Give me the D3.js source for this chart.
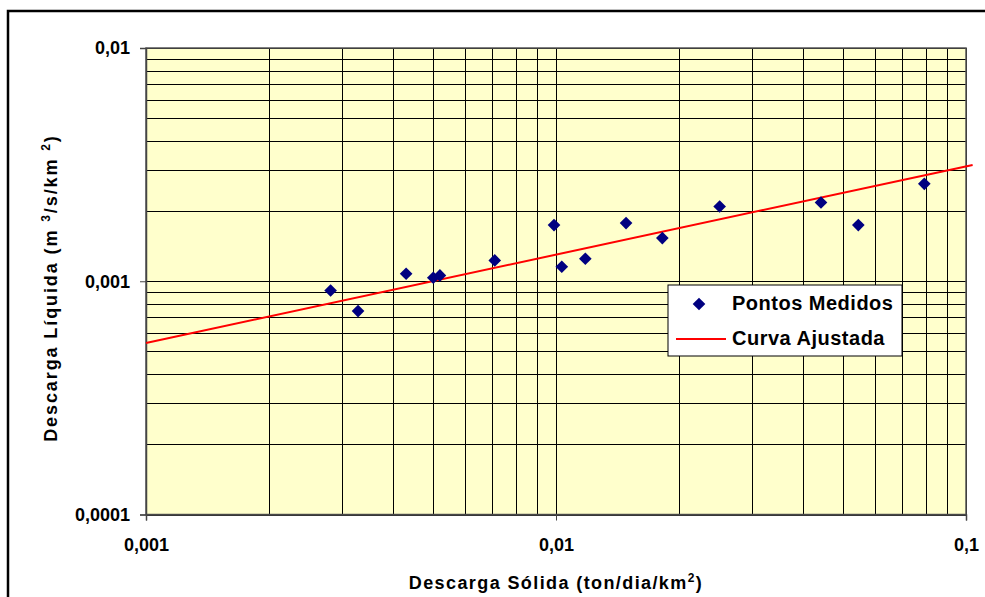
<!DOCTYPE html>
<html>
<head>
<meta charset="utf-8">
<script src="https://cdn.jsdelivr.net/npm/d3@7"></script>
<style>
  html, body { margin: 0; padding: 0; background: #fff; }
  svg { display: block; }
  text { font-family: "Liberation Sans", Arial, sans-serif; font-weight: bold; fill: #000; }
</style>
</head>
<body>
<svg id="chart" width="985" height="597"></svg>
<script>
// Measured points: solid discharge (ton/dia/km²) vs liquid discharge (m³/s/km²)
const solidDischarge = [0.00282, 0.00329, 0.00431, 0.00502, 0.00521, 0.00709, 0.00989, 0.01033,
                        0.01179, 0.01482, 0.01817, 0.02507, 0.04429, 0.05462, 0.07912];
const liquidDischarge = [0.000913, 0.000745, 0.001077, 0.001035, 0.001059, 0.001228, 0.001741, 0.001154,
                         0.001249, 0.001775, 0.001531, 0.002091, 0.002175, 0.001741, 0.002616];

// Fitted power curve endpoints
const curveSolid = [0.001, 0.1038];
const curveLiquid = [0.000544, 0.003153];

// Axis ticks
const xTicks = [0.001, 0.01, 0.1];
const xTickLabels = ["0,001", "0,01", "0,1"];
const yTicks = [0.0001, 0.001, 0.01];
const yTickLabels = ["0,0001", "0,001", "0,01"];

const legendLabels = ["Pontos Medidos", "Curva Ajustada"];

const svg = d3.select("#chart");
const plot = { left: 146, right: 966, top: 48, bottom: 514.5 };

const x = d3.scaleLog().domain([0.001, 0.1]).range([plot.left, plot.right]);
const y = d3.scaleLog().domain([0.0001, 0.01]).range([plot.bottom, plot.top]);

// Outer frame
svg.append("rect")
  .attr("x", 8).attr("y", 11).attr("width", 990).attr("height", 600)
  .attr("fill", "#fff").attr("stroke", "#000").attr("stroke-width", 2.5);

// Plot background
svg.append("rect")
  .attr("x", plot.left).attr("y", plot.top)
  .attr("width", plot.right - plot.left).attr("height", plot.bottom - plot.top)
  .attr("fill", "#FFFFCC");

// Grid lines at every log subdivision
const minorX = [];
for (let d = 0.001; d < 0.1 * 1.0001; d *= 10) for (let k = 1; k <= 9; k++) { const v = d * k; if (v <= 0.1 * 1.0001) minorX.push(v); }
const minorY = [];
for (let d = 0.0001; d < 0.01 * 1.0001; d *= 10) for (let k = 1; k <= 9; k++) { const v = d * k; if (v <= 0.01 * 1.0001) minorY.push(v); }

const grid = svg.append("g").attr("stroke", "#000").attr("stroke-width", 1).attr("shape-rendering", "crispEdges");
grid.selectAll("line.gx").data(minorX).join("line")
  .attr("x1", d => Math.round(x(d)) + 0.5).attr("x2", d => Math.round(x(d)) + 0.5)
  .attr("y1", plot.top).attr("y2", plot.bottom);
grid.selectAll("line.gy").data(minorY).join("line")
  .attr("y1", d => Math.round(y(d)) + 0.5).attr("y2", d => Math.round(y(d)) + 0.5)
  .attr("x1", plot.left).attr("x2", plot.right);

// Plot border
svg.append("rect")
  .attr("x", plot.left).attr("y", plot.top)
  .attr("width", plot.right - plot.left).attr("height", plot.bottom - plot.top)
  .attr("fill", "none").attr("stroke", "#555").attr("stroke-width", 1.5);

// Axes
const xAxis = d3.axisBottom(x).tickValues(xTicks).tickFormat((d, i) => xTickLabels[i]).tickSize(6).tickPadding(18);
const gx = svg.append("g").attr("transform", `translate(0,${plot.bottom})`).call(xAxis);
gx.select(".domain").attr("stroke", "#444").attr("stroke-width", 1.5);
gx.selectAll(".tick line").attr("stroke", "#444");
gx.selectAll(".tick text").style("font-size", "18px").style("font-weight", "bold")
  .style("font-family", "'Liberation Sans', Arial, sans-serif").attr("fill", "#000");

const yAxis = d3.axisLeft(y).tickValues(yTicks).tickFormat((d, i) => yTickLabels[i]).tickSize(6).tickPadding(10);
const gy = svg.append("g").attr("transform", `translate(${plot.left},0)`).call(yAxis);
gy.select(".domain").attr("stroke", "#444").attr("stroke-width", 1.5);
gy.selectAll(".tick line").attr("stroke", "#444");
gy.selectAll(".tick text").style("font-size", "18px").style("font-weight", "bold")
  .style("font-family", "'Liberation Sans', Arial, sans-serif").attr("fill", "#000");

// Fitted curve
const line = d3.line().x(d => x(d[0])).y(d => y(d[1]));
svg.append("path")
  .datum(curveSolid.map((s, i) => [s, curveLiquid[i]]))
  .attr("d", line).attr("fill", "none").attr("stroke", "#FF0000").attr("stroke-width", 2);

// Measured points
const diamond = d3.symbol().type(d3.symbolSquare).size(80);
svg.append("g").selectAll("path").data(solidDischarge.map((s, i) => [s, liquidDischarge[i]])).join("path")
  .attr("d", diamond())
  .attr("transform", d => `translate(${x(d[0])},${y(d[1])}) rotate(45)`)
  .attr("fill", "#000080");

// Axis titles
const xt = svg.append("text")
  .attr("x", (plot.left + plot.right) / 2).attr("y", 589)
  .attr("text-anchor", "middle").style("font-size", "18px").style("letter-spacing", "1.4px");
xt.append("tspan").text("Descarga Sólida (ton/dia/km");
xt.append("tspan").text("2").attr("dy", -7).style("font-size", "12px");
xt.append("tspan").text(")").attr("dy", 7);

const yt = svg.append("text")
  .attr("transform", `translate(57,${288}) rotate(-90)`)
  .attr("text-anchor", "middle").style("font-size", "18px").style("letter-spacing", "1.9px");
yt.append("tspan").text("Descarga Líquida (m ");
yt.append("tspan").text("3").attr("dy", -7).style("font-size", "12px");
yt.append("tspan").text("/s/km ").attr("dy", 7);
yt.append("tspan").text("2").attr("dy", -7).style("font-size", "12px");
yt.append("tspan").text(")").attr("dy", 7);

// Legend
const lg = svg.append("g").attr("transform", "translate(668,285)");
lg.append("rect").attr("width", 234).attr("height", 71)
  .attr("fill", "#fff").attr("stroke", "#000").attr("stroke-width", 1);
lg.append("path").attr("d", diamond()).attr("transform", "translate(31,19) rotate(45)").attr("fill", "#000080");
lg.append("line").attr("x1", 8).attr("x2", 58).attr("y1", 54).attr("y2", 54)
  .attr("stroke", "#FF0000").attr("stroke-width", 2);
lg.selectAll("text.lbl").data(legendLabels).join("text")
  .attr("x", 64).attr("y", (d, i) => 25 + i * 35)
  .style("font-size", "20px").style("letter-spacing", "0.5px")
  .text(d => d);
</script>
</body>
</html>
